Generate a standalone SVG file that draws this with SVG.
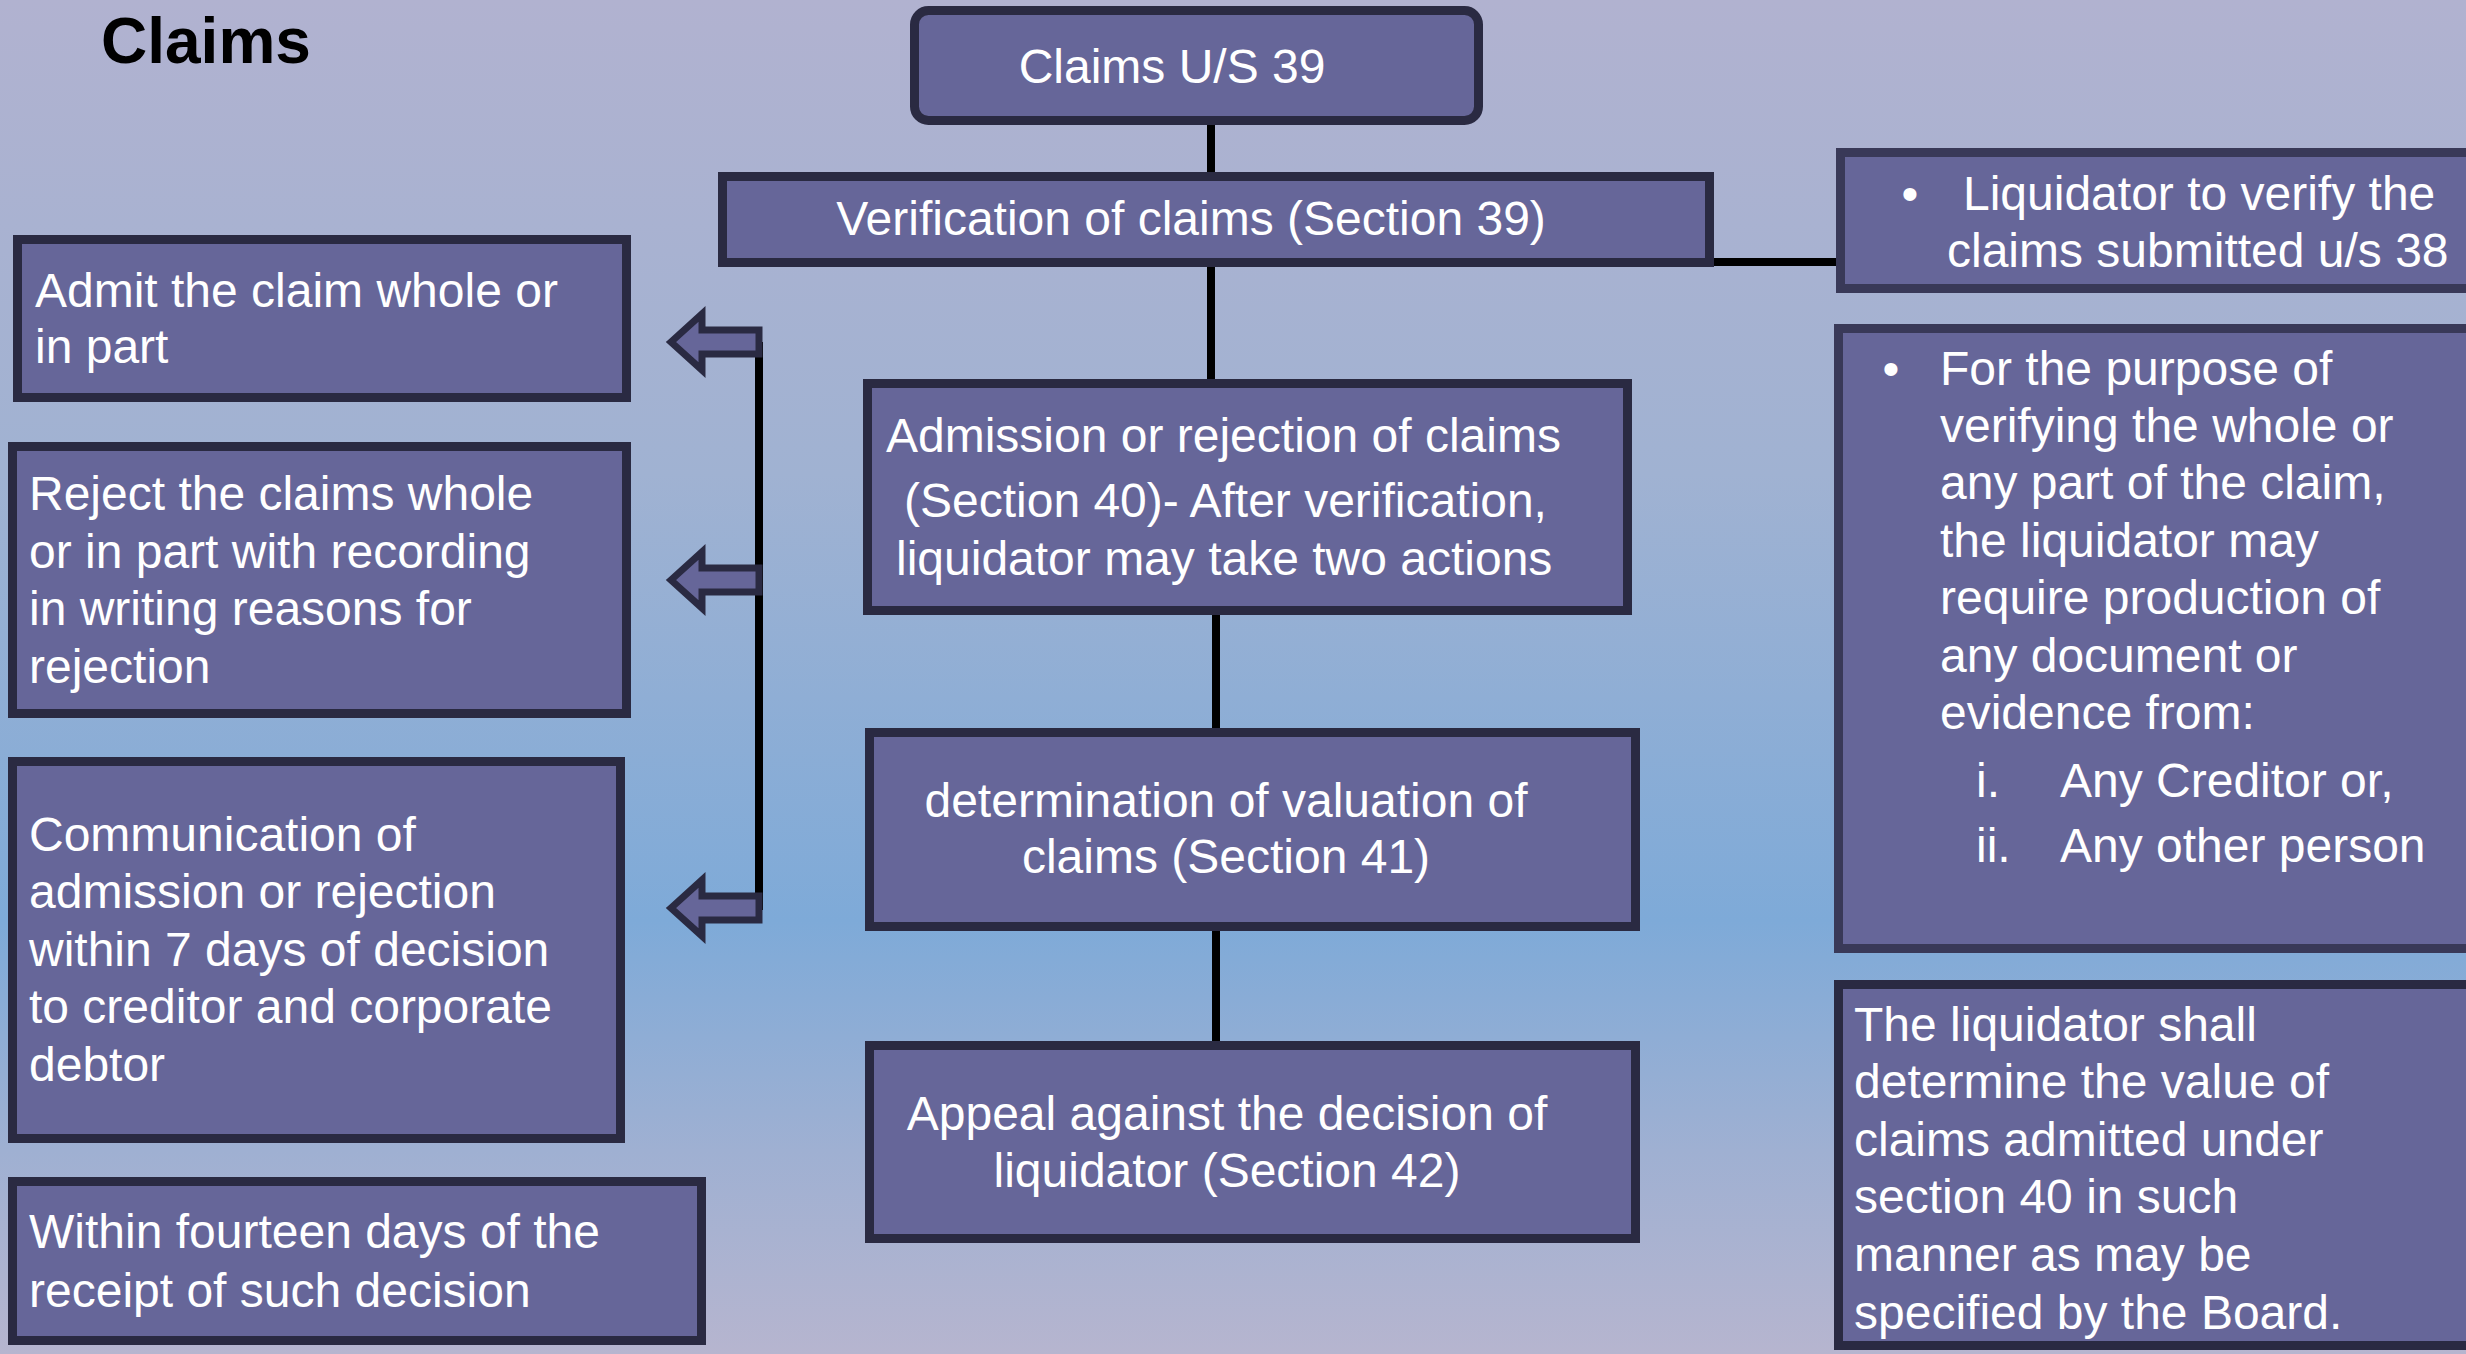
<svg xmlns="http://www.w3.org/2000/svg" width="2466" height="1354" viewBox="0 0 2466 1354">
  <defs>
    <linearGradient id="bg" x1="0" y1="0" x2="0" y2="1">
      <stop offset="0" stop-color="#b1b2d0"/>
      <stop offset="0.35" stop-color="#a0b2d2"/>
      <stop offset="0.68" stop-color="#7eaad8"/>
      <stop offset="0.85" stop-color="#9fb0d2"/>
      <stop offset="1" stop-color="#b6b5cf"/>
    </linearGradient>
    <!-- left-pointing block arrow, tip at origin's left, centred vertically on y=0 -->
    <path id="blockArrow" d="M671,0 L702,-28 L702,-12 L759,-12 L759,12 L702,12 L702,28 Z"/>
  </defs>
  <style>
    .box { fill: #666699; stroke: #2a2a42; stroke-width: 9; }
    .box2 { fill: #666699; stroke: #393958; stroke-width: 9; }
    .t { font-family: "Liberation Sans", Arial, sans-serif; font-size: 48px; fill: #ffffff; }
    .c { text-anchor: middle; }
    .title { font-family: "Liberation Sans", Arial, sans-serif; font-size: 64px; font-weight: bold; fill: #000000; }
    .link { stroke: #000000; stroke-width: 8; fill: none; }
    .arrow { fill: #666699; stroke: #2a2a42; stroke-width: 7; stroke-linejoin: miter; }
  </style>

  <rect x="0" y="0" width="2466" height="1354" fill="url(#bg)"/>

  <text class="title" x="101" y="63">Claims</text>

  <!-- connectors -->
  <g id="connectors">
    <line class="link" x1="1211" y1="124" x2="1211" y2="173"/>
    <line class="link" x1="1211" y1="266" x2="1211" y2="380"/>
    <line class="link" x1="1216" y1="614" x2="1216" y2="729"/>
    <line class="link" x1="1216" y1="930" x2="1216" y2="1042"/>
    <line class="link" x1="1713" y1="262" x2="1837" y2="262"/>
    <line class="link" x1="759" y1="342" x2="759" y2="910"/>
    <use href="#blockArrow" class="arrow" transform="translate(0,342)"/>
    <use href="#blockArrow" class="arrow" transform="translate(0,580)"/>
    <use href="#blockArrow" class="arrow" transform="translate(0,908)"/>
  </g>

  <!-- centre column -->
  <g id="node-claims-us39">
    <rect class="box" x="914.5" y="10.5" width="564" height="110" rx="14"/>
    <text class="t c" x="1172" y="83">Claims U/S 39</text>
  </g>
  <g id="node-verification">
    <rect class="box" x="722.5" y="176.5" width="987" height="86"/>
    <text class="t c" x="1191" y="235">Verification of claims (Section 39)</text>
  </g>
  <g id="node-admission">
    <rect class="box" x="867.5" y="383.5" width="760" height="227"/>
    <text class="t" x="886" y="452">Admission or rejection of claims</text>
    <text class="t" x="904" y="517">(Section 40)- After verification,</text>
    <text class="t" x="896" y="575">liquidator may take two actions</text>
  </g>
  <g id="node-determination">
    <rect class="box" x="869.5" y="732.5" width="766" height="194"/>
    <text class="t c" x="1226" y="817">determination of valuation of</text>
    <text class="t c" x="1226" y="873">claims (Section 41)</text>
  </g>
  <g id="node-appeal">
    <rect class="box" x="869.5" y="1045.5" width="766" height="193"/>
    <text class="t c" x="1227" y="1130">Appeal against the decision of</text>
    <text class="t c" x="1227" y="1187">liquidator (Section 42)</text>
  </g>

  <!-- left column -->
  <g id="node-admit">
    <rect class="box" x="17.5" y="239.5" width="609" height="158"/>
    <text class="t" x="35" y="307">Admit the claim whole or</text>
    <text class="t" x="35" y="363">in part</text>
  </g>
  <g id="node-reject">
    <rect class="box" x="12.5" y="446.5" width="614" height="267"/>
    <text class="t" x="29" y="510">Reject the claims whole</text>
    <text class="t" x="29" y="568">or in part with recording</text>
    <text class="t" x="29" y="625">in writing reasons for</text>
    <text class="t" x="29" y="683">rejection</text>
  </g>
  <g id="node-communication">
    <rect class="box" x="12.5" y="761.5" width="608" height="377"/>
    <text class="t" x="29" y="851">Communication of</text>
    <text class="t" x="29" y="908">admission or rejection</text>
    <text class="t" x="29" y="966">within 7 days of decision</text>
    <text class="t" x="29" y="1023">to creditor and corporate</text>
    <text class="t" x="29" y="1081">debtor</text>
  </g>
  <g id="node-within">
    <rect class="box" x="12.5" y="1181.5" width="689" height="159"/>
    <text class="t" x="29" y="1248">Within fourteen days of the</text>
    <text class="t" x="29" y="1307">receipt of such decision</text>
  </g>

  <!-- right column -->
  <g id="node-verify-note">
    <rect class="box2" x="1840.5" y="152.5" width="700" height="136"/>
    <text class="t c" x="1910" y="210">•</text>
    <text class="t" x="1963" y="210">Liquidator to verify the</text>
    <text class="t" x="1947" y="267">claims submitted u/s 38</text>
  </g>
  <g id="node-evidence-note">
    <rect class="box2" x="1838.5" y="328.5" width="700" height="620"/>
    <text class="t c" x="1891" y="385">•</text>
    <text class="t" x="1940" y="385">For the purpose of</text>
    <text class="t" x="1940" y="442">verifying the whole or</text>
    <text class="t" x="1940" y="499">any part of the claim,</text>
    <text class="t" x="1940" y="557">the liquidator may</text>
    <text class="t" x="1940" y="614">require production of</text>
    <text class="t" x="1940" y="672">any document or</text>
    <text class="t" x="1940" y="729">evidence from:</text>
    <text class="t" x="1976" y="797">i.</text>
    <text class="t" x="2060" y="797">Any Creditor or,</text>
    <text class="t" x="1976" y="862">ii.</text>
    <text class="t" x="2060" y="862">Any other person</text>
  </g>
  <g id="node-valuation-note">
    <rect class="box" x="1838.5" y="984.5" width="700" height="361"/>
    <text class="t" x="1854" y="1041">The liquidator shall</text>
    <text class="t" x="1854" y="1098">determine the value of</text>
    <text class="t" x="1854" y="1156">claims admitted under</text>
    <text class="t" x="1854" y="1213">section 40 in such</text>
    <text class="t" x="1854" y="1271">manner as may be</text>
    <text class="t" x="1854" y="1329">specified by the Board.</text>
  </g>
</svg>
